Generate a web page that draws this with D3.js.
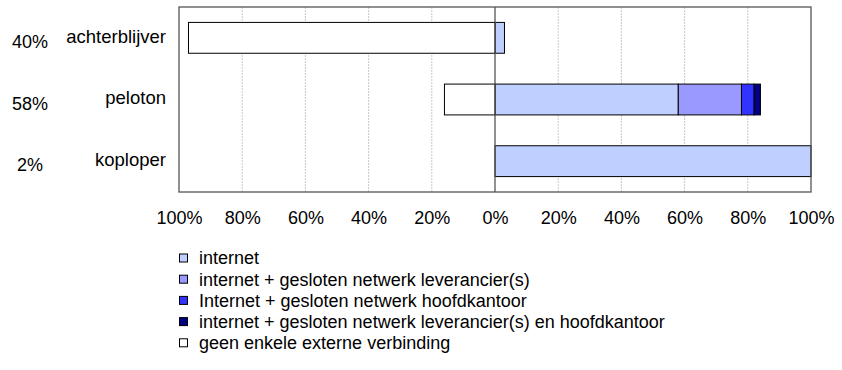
<!DOCTYPE html>
<html><head><meta charset="utf-8">
<script src="https://cdn.jsdelivr.net/npm/d3@7"></script>
<style>body{margin:0;background:#fff}svg{display:block;font-family:"Liberation Sans",Arial,sans-serif}</style>
</head><body><svg id="c" width="842" height="370"></svg>
<script>
const categories = ["achterblijver","peloton","koploper"];
const shares = ["40%","58%","2%"];
const seriesNames = ["internet","internet + gesloten netwerk leverancier(s)","Internet + gesloten netwerk hoofdkantoor","internet + gesloten netwerk leverancier(s) en hoofdkantoor","geen enkele externe verbinding"];
const internet = [3,58,100];
const leverancier = [0,20,0];
const hoofdkantoor = [0,4,0];
const beide = [0,2,0];
const geen = [97,16,0];
const tickValues = [-100,-80,-60,-40,-20,0,20,40,60,80,100];
const colors = ["#BFCFFF","#9999FF","#3333FF","#000080","#FFFFFF"];

const svg = d3.select("#c");
const L=179,R=811,T=7,B=192;
const FS=18;
const x = d3.scaleLinear().domain([-100,100]).range([L,R]);
const y = d3.scaleBand().domain(categories).range([T,B]).paddingInner(0.5).paddingOuter(0.25);

// gridlines
svg.append("g").selectAll("line").data(tickValues.filter(v=>v!==0&&Math.abs(v)!==100)).join("line")
  .attr("x1",d=>x(d)).attr("x2",d=>x(d)).attr("y1",T).attr("y2",B)
  .attr("stroke","#c8c8c8").attr("stroke-width",1).attr("stroke-dasharray","2,1");

// bars
const pos = [internet,leverancier,hoofdkantoor,beide];
categories.forEach((c,i)=>{
  let acc=0;
  pos.forEach((s,k)=>{
    const v=s[i]; if(!v) return;
    svg.append("rect").attr("x",x(acc)).attr("width",x(acc+v)-x(acc))
      .attr("y",y(c)).attr("height",y.bandwidth())
      .attr("fill",colors[k]).attr("stroke","#000").attr("stroke-width",1);
    acc+=v;
  });
  if(geen[i]){
    svg.append("rect").attr("x",x(-geen[i])).attr("width",x(0)-x(-geen[i]))
      .attr("y",y(c)).attr("height",y.bandwidth())
      .attr("fill",colors[4]).attr("stroke","#000").attr("stroke-width",1);
  }
});

// frame and zero line
svg.append("rect").attr("x",L).attr("y",T).attr("width",R-L).attr("height",B-T)
  .attr("fill","none").attr("stroke","#555").attr("stroke-width",1.3);
svg.append("line").attr("x1",x(0)).attr("x2",x(0)).attr("y1",T).attr("y2",B)
  .attr("stroke","#555").attr("stroke-width",1.3);

// x axis labels
const xa = d3.axisBottom(x).tickValues(tickValues).tickSize(0).tickPadding(0)
  .tickFormat(d=>Math.abs(d)+"%");
const gx = svg.append("g").attr("transform",`translate(0,${B})`).call(xa);
gx.select(".domain").remove();
gx.selectAll("text").attr("dy",null).attr("y",32).attr("font-size",FS).attr("fill","#000")
  .attr("font-family","Liberation Sans, Arial, sans-serif");

// category labels
const ya = d3.axisLeft(y).tickSize(0).tickPadding(0);
const gy = svg.append("g").attr("transform","translate(166,-1)").call(ya);
gy.select(".domain").remove();
gy.selectAll("text").attr("font-size",FS+0.5).attr("fill","#000").attr("font-family","Liberation Sans, Arial, sans-serif");

svg.append("g").selectAll("text").data(categories).join("text")
  .attr("x",30).attr("y",c=>y(c)+y.bandwidth()/2+4.5).attr("dy","0.32em")
  .attr("text-anchor","middle").attr("font-size",FS).text((c,i)=>shares[i]);

// legend
const lg = svg.append("g").attr("transform","translate(179,258)");
seriesNames.forEach((n,i)=>{
  const g = lg.append("g").attr("transform",`translate(0,${i*21.2})`);
  g.append("rect").attr("x",0.5).attr("y",-4).attr("width",8).attr("height",8)
    .attr("fill",colors[i]).attr("stroke","#000").attr("stroke-width",1);
  g.append("text").attr("x",20).attr("y",0).attr("dy","0.35em").attr("font-size",FS).text(n);
});
</script></body></html>
